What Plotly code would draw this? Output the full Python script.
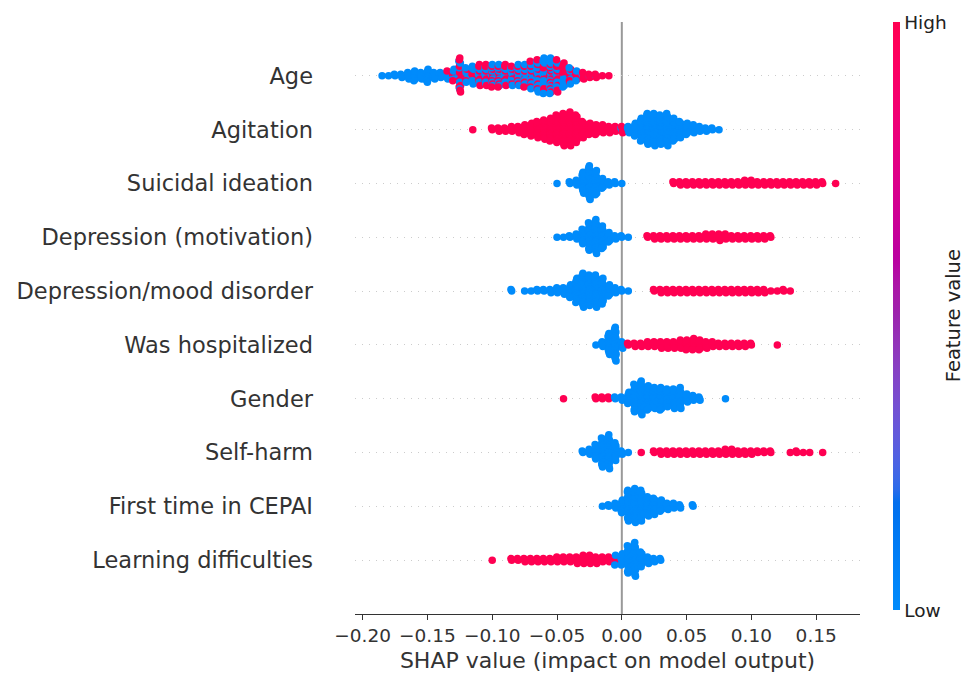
import math
import plotly.graph_objects as go

# ---------------- data ----------------
features = ["Age", "Agitation", "Suicidal ideation", "Depression (motivation)",
            "Depression/mood disorder", "Was hospitalized", "Gender", "Self-harm",
            "First time in CEPAI", "Learning difficulties"]

bin_width = 0.005  # SHAP-value bin width of the counts below

# number of samples per SHAP-value bin (first bin centre, counts), low / high feature value
age_low_start = -0.185
age_low = [1, 1, 2, 3, 5, 7, 5, 9, 5, 4, 5, 5, 9, 6, 7, 8, 8, 8, 8, 8, 8, 9, 10, 12,
           14, 15, 14, 12, 8, 5, 3, 2, 1, 1]
age_high_start = -0.135
age_high = [1, 3, 13, 4, 5, 6, 6, 7, 7, 6, 5, 5, 5, 6, 7, 8, 9, 9, 8, 6, 4, 3, 2, 2, 1, 1]

agitation_low_start = 0.000
agitation_low = [2, 5, 9, 15, 20, 21, 19, 21, 15, 11, 8, 6, 4, 3, 2, 1]
agitation_high_start = -0.115
agitation_high = [1, 0, 0, 2, 3, 3, 4, 5, 7, 9, 11, 13, 15, 18, 21, 22, 18, 11, 8, 7, 6, 5, 4, 3]

suicidal_low_start = -0.050
suicidal_low = [1, 0, 2, 4, 14, 22, 16, 7, 3, 2, 1]
suicidal_high_start = 0.040
suicidal_high = [2, 3, 3, 3, 3, 3, 3, 3, 3, 3, 3, 4, 4, 3, 3, 3, 3, 3, 3, 3, 3, 3, 3, 2, 0, 1]

depmot_low_start = -0.050
depmot_low = [1, 1, 2, 4, 10, 18, 22, 15, 7, 3, 2, 1]
depmot_high_start = 0.020
depmot_high = [2, 3, 3, 3, 3, 3, 3, 3, 3, 4, 4, 5, 4, 3, 3, 3, 3, 3, 3, 2]

depmood_low_start = -0.085
depmood_low = [2, 0, 1, 1, 2, 2, 3, 4, 5, 9, 16, 22, 20, 21, 17, 8, 4, 2, 1]
depmood_high_start = 0.025
depmood_high = [2, 3, 3, 3, 3, 3, 3, 3, 3, 3, 3, 3, 3, 3, 3, 3, 3, 3, 1, 1, 2, 1]

hosp_low_start = -0.020
hosp_low = [1, 4, 14, 22, 5]
hosp_high_start = 0.005
hosp_high = [2, 3, 3, 4, 4, 5, 5, 5, 6, 7, 8, 7, 5, 4, 3, 3, 3, 3, 3, 2, 0, 0, 0, 1]

gender_low_start = -0.005
gender_low = [2, 3, 8, 18, 22, 16, 14, 15, 12, 13, 14, 6, 4, 3, 0, 0, 0, 1]
gender_high_start = -0.045
gender_high = [1, 0, 0, 0, 0, 2, 2, 2]

selfharm_low_start = -0.030
selfharm_low = [2, 4, 10, 19, 22, 12, 3, 1]
selfharm_high_start = 0.015
selfharm_high = [1, 0, 2, 3, 3, 3, 3, 3, 3, 3, 3, 3, 3, 4, 4, 3, 3, 3, 2, 2, 2, 0, 0, 1, 2, 1, 1, 0, 1]

firsttime_low_start = -0.015
firsttime_low = [1, 2, 4, 9, 20, 22, 20, 13, 11, 8, 5, 4, 3, 0, 2]
firsttime_high_start = 0.0
firsttime_high = []

learning_low_start = -0.005
learning_low = [3, 8, 18, 22, 10, 5, 3, 2]
learning_high_start = -0.100
learning_high = [1, 0, 0, 2, 2, 3, 3, 3, 3, 3, 4, 4, 4, 5, 6, 6, 5, 4, 4, 4]

x_tick_vals = [-0.20, -0.15, -0.10, -0.05, 0.00, 0.05, 0.10, 0.15]
x_tick_text = ["\u22120.20", "\u22120.15", "\u22120.10", "\u22120.05", "0.00", "0.05", "0.10", "0.15"]

series = [
    (age_low_start, age_low, age_high_start, age_high),
    (agitation_low_start, agitation_low, agitation_high_start, agitation_high),
    (suicidal_low_start, suicidal_low, suicidal_high_start, suicidal_high),
    (depmot_low_start, depmot_low, depmot_high_start, depmot_high),
    (depmood_low_start, depmood_low, depmood_high_start, depmood_high),
    (hosp_low_start, hosp_low, hosp_high_start, hosp_high),
    (gender_low_start, gender_low, gender_high_start, gender_high),
    (selfharm_low_start, selfharm_low, selfharm_high_start, selfharm_high),
    (firsttime_low_start, firsttime_low, firsttime_high_start, firsttime_high),
    (learning_low_start, learning_low, learning_high_start, learning_high),
]

LOW_COLOR = "#008bfb"
HIGH_COLOR = "#ff0052"
AXIS_COLOR = "#333333"
FONT = "DejaVu Sans"


# ---------------- SHAP red_blue colormap (LCH interpolation) ----------------
def lch_to_hex(l, c, h):
    a, b = c * math.cos(h), c * math.sin(h)
    fy = (l + 16) / 116
    fx = fy + a / 500
    fz = fy - b / 200

    def finv(t):
        return t ** 3 if t > 0.206893 else (t - 16 / 116) / 7.787

    X, Y, Z = 0.95047 * finv(fx), 1.0 * finv(fy), 1.08883 * finv(fz)
    r = 3.2404542 * X - 1.5371385 * Y - 0.4985314 * Z
    g = -0.9692660 * X + 1.8760108 * Y + 0.0415560 * Z
    bl = 0.0556434 * X - 0.2040259 * Y + 1.0572252 * Z
    out = []
    for v in (r, g, bl):
        v = 1.055 * v ** (1 / 2.4) - 0.055 if v > 0.0031308 else 12.92 * v
        out.append(int(round(min(max(v, 0), 1) * 255)))
    return "#%02x%02x%02x" % tuple(out)


blue_lch = (54.0, 70.0, 4.6588)
red_lch = (54.0, 90.0, 0.35470565 + 2 * math.pi)
l_mid = 40.0
nsteps = 50
colorscale = []
for i in range(nsteps):
    t = i / (nsteps - 1)
    l = blue_lch[0] + (l_mid - blue_lch[0]) * (t * 2) if t <= 0.5 else l_mid + (red_lch[0] - l_mid) * ((t - 0.5) * 2)
    c = blue_lch[1] + (red_lch[1] - blue_lch[1]) * t
    h = blue_lch[2] + (red_lch[2] - blue_lch[2]) * t
    colorscale.append([t, lch_to_hex(l, c, h)])

# ---------------- figure ----------------
fig = go.Figure()
n_feat = len(features)
row_height = 0.4


def stride_for(n):
    for s in (7, 5, 3, 11, 13, 1):
        if math.gcd(s, n) == 1:
            return s
    return 1


for fi, (ls, lc, hs, hc) in enumerate(series):
    row_y = n_feat - 1 - fi
    bins = {}
    for k, c in enumerate(lc):
        key = round(ls / bin_width) + k
        bins.setdefault(key, [0, 0])[0] += c
    for k, c in enumerate(hc):
        key = round(hs / bin_width) + k
        bins.setdefault(key, [0, 0])[1] += c
    nmax = max(a + b for a, b in bins.values())
    max_layer = math.ceil((nmax - 1) / 2)
    scale = 0.9 * row_height / (max_layer + 1)
    xs, ys, cols = [], [], []
    for key in sorted(bins):
        nl, nh = bins[key]
        n = nl + nh
        centre = key * bin_width
        # colours spread evenly, then scattered over the stack layers
        flags = [math.floor((j + 1) * nh / n) > math.floor(j * nh / n) for j in range(n)]
        s = stride_for(n)
        for j in range(n):
            is_high = flags[(j * s) % n]
            layer = math.ceil(j / 2) * (1 if j % 2 == 1 else -1)
            dx = (((j * 0.618034 + 0.5) % 1) - 0.5) * bin_width * 0.3
            xs.append(centre + dx)
            ys.append(row_y + layer * scale)
            cols.append(HIGH_COLOR if is_high else LOW_COLOR)
    fig.add_trace(go.Scatter(
        x=xs, y=ys, mode="markers",
        marker=dict(size=7.5, color=cols, line=dict(width=0)),
        hoverinfo="skip", showlegend=False))

# colour bar
fig.add_trace(go.Scatter(
    x=[None], y=[None], mode="markers", showlegend=False, hoverinfo="skip",
    marker=dict(color=[0], cmin=0, cmax=1, colorscale=colorscale, showscale=True,
                colorbar=dict(thickness=7, len=588 / 592, lenmode="fraction",
                              x=(893 - 355) / 505, xanchor="left", xpad=0,
                              y=0.503, yanchor="middle", ypad=0,
                              tickvals=[0, 1], ticktext=["Low", "High"], ticks="",
                              outlinewidth=0,
                              tickfont=dict(family=FONT, size=18.5, color="#222222")))))

fig.add_annotation(x=(953 - 355) / 505, y=0.503, xref="paper", yref="paper",
                   xanchor="center", yanchor="middle",
                   text="Feature value", textangle=-90, showarrow=False,
                   font=dict(family=FONT, size=19.5, color="#222222"))

fig.add_shape(type="line", x0=0, x1=0, y0=0, y1=1, xref="x", yref="paper",
              line=dict(color="#999999", width=2), layer="below")

fig.update_layout(
    width=966, height=675,
    margin=dict(l=355, r=106, t=22, b=61, autoexpand=False),
    paper_bgcolor="white", plot_bgcolor="white",
    font=dict(family=FONT, color=AXIS_COLOR),
    xaxis=dict(range=[-0.2059, 0.1838], tickvals=x_tick_vals, ticktext=x_tick_text,
               automargin=False,
               showgrid=False, zeroline=False, showline=True, linecolor=AXIS_COLOR,
               linewidth=1, ticks="outside", ticklen=5, tickcolor=AXIS_COLOR,
               tickfont=dict(size=18.5, color=AXIS_COLOR),
               title=dict(text="SHAP value (impact on model output)",
                          font=dict(size=22, color=AXIS_COLOR), standoff=7)),
    yaxis=dict(range=[-1, n_feat], tickvals=list(range(n_feat)),
               ticktext=features[::-1], showline=False, zeroline=False,
               automargin=False,
               showgrid=True, gridcolor="#cccccc", gridwidth=1, griddash="1px,6px",
               ticks="", ticklabelstandoff=41,
               tickfont=dict(size=22.5, color=AXIS_COLOR)),
)

fig.write_html("out.html")
